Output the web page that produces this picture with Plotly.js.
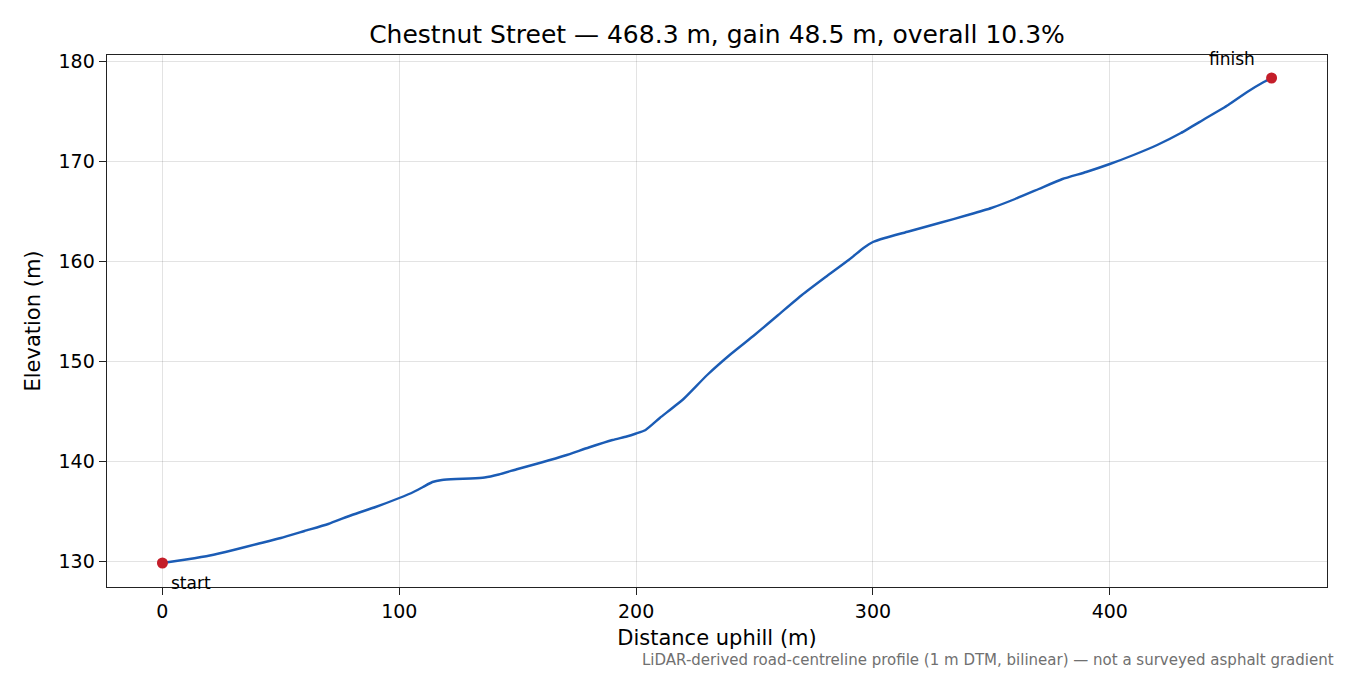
<!DOCTYPE html>
<html>
<head>
<meta charset="utf-8">
<script src="https://cdn.plot.ly/plotly-3.0.1.min.js"></script>
<style>html,body{margin:0;padding:0;background:#fff;}#chart{width:1350px;height:675px;}</style>
</head>
<body>
<div id="chart"></div>
<script>
const distance = [0,10,20,30,40,50,60,70,80,90,100,106,110,114,118,124,130,136,142,150,160,170,180,190,196,200,204,210,220,230,240,250,260,270,280,290,296,300,305,315,328,340,350,360,370,380,390,400,410,420,430,440,450,458,465,468.3];
const elevation = [129.8,130.15,130.55,131.1,131.7,132.3,133.0,133.7,134.6,135.4,136.3,136.9,137.4,137.9,138.1,138.2,138.25,138.35,138.65,139.2,139.85,140.55,141.35,142.1,142.45,142.75,143.1,144.3,146.2,148.6,150.7,152.6,154.6,156.6,158.4,160.15,161.3,161.9,162.3,162.95,163.8,164.6,165.3,166.2,167.2,168.2,168.9,169.7,170.6,171.6,172.8,174.2,175.6,176.9,177.9,178.3];
const xTicks = [0,100,200,300,400];
const yTicks = [130,140,150,160,170,180];
const titleText = "Chestnut Street — 468.3 m, gain 48.5 m, overall 10.3%";
const xLabel = "Distance uphill (m)";
const yLabel = "Elevation (m)";
const startLabel = "start";
const finishLabel = "finish";
const footnote = "LiDAR-derived road-centreline profile (1 m DTM, bilinear) — not a surveyed asphalt gradient";

const n = distance.length;
const font = "DejaVu Sans, sans-serif";

const traces = [
  {x: distance, y: elevation, type: "scatter", mode: "lines",
   line: {color: "#1b5cb5", width: 2.4, shape: "spline", smoothing: 0.5}, hoverinfo: "skip"},
  {x: [distance[0], distance[n-1]], y: [elevation[0], elevation[n-1]], type: "scatter", mode: "markers",
   marker: {color: "#c41e2a", size: 11}, hoverinfo: "skip"}
];

const layout = {
  width: 1350, height: 675,
  margin: {l: 107, r: 23, t: 55, b: 88},
  paper_bgcolor: "#fff", plot_bgcolor: "#fff",
  showlegend: false,
  font: {family: font, color: "#000", size: 18},
  title: {text: titleText, font: {family: font, size: 25, color: "#000"}, xref: "paper", x: 0.5, xanchor: "center", y: 0.95, yanchor: "middle"},
  xaxis: {
    range: [-23.4, 491.7], tickvals: xTicks, ticktext: xTicks.map(String),
    showgrid: true, gridcolor: "rgba(0,0,0,0.11)", gridwidth: 1,
    zeroline: false, showline: true, linecolor: "#222", linewidth: 1.4, mirror: true,
    ticks: "outside", ticklen: 7, tickcolor: "#222", tickfont: {size: 19},
    title: {text: xLabel, font: {size: 21}, standoff: 9}
  },
  yaxis: {
    range: [127.4, 180.6], tickvals: yTicks, ticktext: yTicks.map(String),
    showgrid: true, gridcolor: "rgba(0,0,0,0.11)", gridwidth: 1,
    zeroline: false, showline: true, linecolor: "#222", linewidth: 1.4, mirror: true,
    ticks: "outside", ticklen: 7, tickcolor: "#222", tickfont: {size: 19},
    title: {text: yLabel, font: {size: 21}, standoff: 12}
  },
  annotations: [
    {x: distance[0], y: elevation[0], xref: "x", yref: "y", text: startLabel, showarrow: false,
     xanchor: "left", yanchor: "middle", xshift: 7, yshift: -20, font: {size: 17, color: "#000"}},
    {x: distance[n-1], y: elevation[n-1], xref: "x", yref: "y", text: finishLabel, showarrow: false,
     xanchor: "right", yanchor: "middle", xshift: -15, yshift: 19, font: {size: 17, color: "#000"}},
    {x: 1.0074, y: -0.137, xref: "paper", yref: "paper", text: footnote, showarrow: false,
     xanchor: "right", yanchor: "middle", font: {size: 15, color: "#707070"}}
  ]
};

Plotly.newPlot("chart", traces, layout, {staticPlot: true, displayModeBar: false});
</script>
</body>
</html>
